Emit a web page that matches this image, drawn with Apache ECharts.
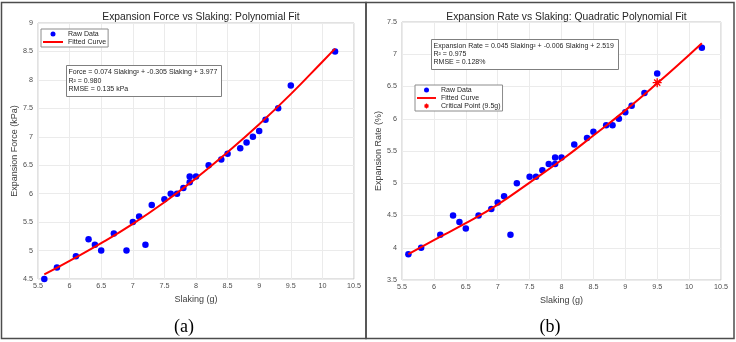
<!DOCTYPE html>
<html>
<head>
<meta charset="utf-8">
<script src="https://cdn.jsdelivr.net/npm/echarts@6/dist/echarts.min.js"></script>
<style>
  html, body { margin: 0; padding: 0; background: #fff; }
  #chart { width: 736px; height: 342px; }
</style>
</head>
<body>
<div id="chart"></div>
<script>
// measured samples (both panels share the same slaking values)
const slaking = [5.6, 5.8, 6.1, 6.3, 6.4, 6.5, 6.7, 6.9, 7.0, 7.1, 7.2, 7.3, 7.5, 7.6, 7.7,
  7.8, 7.9, 7.9, 8.0, 8.2, 8.4, 8.5, 8.7, 8.8, 8.9, 9.0, 9.1, 9.3, 9.5, 10.2]
const force = [4.5, 4.7, 4.9, 5.2, 5.1, 5.0, 5.3, 5.0, 5.5, 5.6, 5.1, 5.8, 5.9, 6.0, 6.0,
  6.1, 6.2, 6.3, 6.3, 6.5, 6.6, 6.7, 6.8, 6.9, 7.0, 7.1, 7.3, 7.5, 7.9, 8.5]
const rate = [3.9, 4.0, 4.2, 4.5, 4.4, 4.3, 4.5, 4.6, 4.7, 4.8, 4.2, 5.0, 5.1, 5.1, 5.2,
  5.3, 5.3, 5.4, 5.4, 5.6, 5.7, 5.8, 5.9, 5.9, 6.0, 6.1, 6.2, 6.4, 6.7, 7.1]

// fitted curves
const curveX = [5.6, 6.0, 6.5, 7.0, 7.5, 8.0, 8.5, 9.0, 9.5, 10.0, 10.2]
const forceFit = [4.58, 4.82, 5.13, 5.47, 5.85, 6.27, 6.73, 7.22, 7.75, 8.32, 8.55]
const rateFit = [3.90, 4.12, 4.38, 4.67, 5.01, 5.36, 5.74, 6.13, 6.55, 6.99, 7.17]

const critical = [9.5, 6.56]

const forceNote = ['Force = 0.074 Slaking\u00b2 + -0.305 Slaking + 3.977', 'R\u00b2 = 0.980', 'RMSE = 0.135 kPa']
const rateNote = ['Expansion Rate = 0.045 Slaking\u00b2 + -0.006 Slaking + 2.519', 'R\u00b2 = 0.975', 'RMSE = 0.128%']

const FONT = '"Liberation Sans", Arial, sans-serif'
const RED = '#ff0000'
const BLUE = '#0000ff'
const asterisk = 'path://M5,0 L5,10 M0,5 L10,5 M1.6,1.6 L8.4,8.4 M1.6,8.4 L8.4,1.6'
const lineIcon = 'path://M0,0 L20,0 L20,2 L0,2 Z'

const zip = (xs, ys) => xs.map((x, i) => [x, ys[i]])

function xAxis(gridIndex) {
  return {
    gridIndex,
    type: 'value',
    min: 5.5,
    max: 10.5,
    interval: 0.5,
    name: 'Slaking (g)',
    nameLocation: 'middle',
    nameGap: 13,
    nameTextStyle: { fontFamily: FONT, fontSize: 9, color: '#404040' },
    axisLine: { show: false },
    axisTick: { show: false },
    axisLabel: { fontFamily: FONT, fontSize: 7.2, color: '#4d4d4d', margin: 4 },
    splitLine: { lineStyle: { color: '#ebebeb', width: 1 } },
  }
}

function yAxis(gridIndex, name, min, max) {
  return {
    gridIndex,
    type: 'value',
    min,
    max,
    interval: 0.5,
    name,
    nameLocation: 'middle',
    nameGap: 15,
    nameTextStyle: { fontFamily: FONT, fontSize: 9, color: '#404040' },
    axisLine: { show: false },
    axisTick: { show: false },
    axisLabel: { fontFamily: FONT, fontSize: 7.2, color: '#4d4d4d', margin: 5 },
    splitLine: { lineStyle: { color: '#ebebeb', width: 1 } },
  }
}

const rawItem = { name: 'Raw Data', icon: 'circle', itemStyle: { color: BLUE } }
const fitItem = { name: 'Fitted Curve', icon: lineIcon, itemStyle: { color: RED } }
const critItem = {
  name: 'Critical Point (9.5g)', icon: asterisk,
  itemStyle: { color: 'rgba(0,0,0,0)', borderColor: RED, borderWidth: 1.2 },
}

function legend(left, top, itemWidth, items) {
  return {
    left,
    top,
    orient: 'vertical',
    data: items,
    itemWidth,
    itemHeight: 5,
    itemGap: 0,
    padding: [1, 2, 1, 2],
    borderColor: '#8c8c8c',
    borderWidth: 1,
    borderRadius: 0,
    backgroundColor: '#fff',
    selectedMode: false,
    z: 20,
    textStyle: { fontFamily: FONT, fontSize: 7, color: '#262626', lineHeight: 8 },
  }
}

function note(left, top, width, height, lines, lineHeight) {
  return {
    type: 'group',
    left,
    top,
    z: 100,
    children: [
      {
        type: 'rect',
        z: 100,
        shape: { x: 0, y: 0, width, height },
        style: { fill: '#fff', stroke: '#7f7f7f', lineWidth: 1 },
      },
      {
        type: 'text',
        z: 101,
        x: 2,
        y: 2.5,
        style: {
          text: lines.join('\n'),
          font: '7px ' + FONT,
          fill: '#262626',
          lineHeight,
        },
      },
    ],
  }
}

const chart = echarts.init(document.getElementById('chart'), null, { renderer: 'canvas' })

chart.setOption({
  backgroundColor: '#fff',
  animation: false,
  title: [
    {
      text: 'Expansion Force vs Slaking: Polynomial Fit',
      left: 196, top: 7, textAlign: 'center',
      textStyle: { fontFamily: FONT, fontSize: 10.3, fontWeight: 'normal', color: '#262626' },
    },
    {
      text: 'Expansion Rate vs Slaking: Quadratic Polynomial Fit',
      left: 561.5, top: 7, textAlign: 'center',
      textStyle: { fontFamily: FONT, fontSize: 10.3, fontWeight: 'normal', color: '#262626' },
    },
  ],
  grid: [
    { left: 38, top: 23, width: 316, height: 256, show: true, borderColor: '#c4c4c4', borderWidth: 1, backgroundColor: '#fff' },
    { left: 402, top: 22, width: 319, height: 258, show: true, borderColor: '#c4c4c4', borderWidth: 1, backgroundColor: '#fff' },
  ],
  xAxis: [xAxis(0), xAxis(1)],
  yAxis: [
    yAxis(0, 'Expansion Force (kPa)', 4.5, 9),
    yAxis(1, 'Expansion Rate (%)', 3.5, 7.5),
  ],
  legend: [
    legend(41, 29, 20, [rawItem, fitItem]),
    legend(415, 85, 19, [rawItem, fitItem, critItem]),
  ],
  series: [
    {
      name: 'Raw Data', type: 'scatter', xAxisIndex: 0, yAxisIndex: 0,
      data: zip(slaking, force), symbol: 'circle', symbolSize: 6.5,
      itemStyle: { color: BLUE, opacity: 1 },
    },
    {
      name: 'Fitted Curve', type: 'line', xAxisIndex: 0, yAxisIndex: 0,
      data: zip(curveX, forceFit), smooth: true, symbol: 'none',
      lineStyle: { color: RED, width: 2 }, itemStyle: { color: RED },
    },
    {
      name: 'Raw Data', type: 'scatter', xAxisIndex: 1, yAxisIndex: 1,
      data: zip(slaking, rate), symbol: 'circle', symbolSize: 6.5,
      itemStyle: { color: BLUE, opacity: 1 },
    },
    {
      name: 'Fitted Curve', type: 'line', xAxisIndex: 1, yAxisIndex: 1,
      data: zip(curveX, rateFit), smooth: true, symbol: 'none',
      lineStyle: { color: RED, width: 2 }, itemStyle: { color: RED },
    },
    {
      name: 'Critical Point (9.5g)', type: 'scatter', xAxisIndex: 1, yAxisIndex: 1,
      data: [critical], symbol: asterisk, symbolSize: 9, z: 5,
      itemStyle: { color: 'rgba(0,0,0,0)', borderColor: RED, borderWidth: 1.4, opacity: 1 },
    },
  ],
  graphic: [
    { type: 'rect', shape: { x: 1.5, y: 2.5, width: 364.5, height: 336 }, style: { fill: 'none', stroke: '#4d4d4d', lineWidth: 1.5 } },
    { type: 'rect', shape: { x: 366, y: 2.5, width: 368, height: 336 }, style: { fill: 'none', stroke: '#4d4d4d', lineWidth: 1.5 } },
    note(66, 65, 155, 31, forceNote, 8.5),
    note(431, 39, 187, 30, rateNote, 8),
    {
      type: 'text', x: 184, y: 327,
      style: { text: '(a)', font: '18px "Liberation Serif", "Times New Roman", serif', fill: '#000', align: 'center', verticalAlign: 'middle' },
    },
    {
      type: 'text', x: 550, y: 327,
      style: { text: '(b)', font: '18px "Liberation Serif", "Times New Roman", serif', fill: '#000', align: 'center', verticalAlign: 'middle' },
    },
  ],
})
</script>
</body>
</html>
